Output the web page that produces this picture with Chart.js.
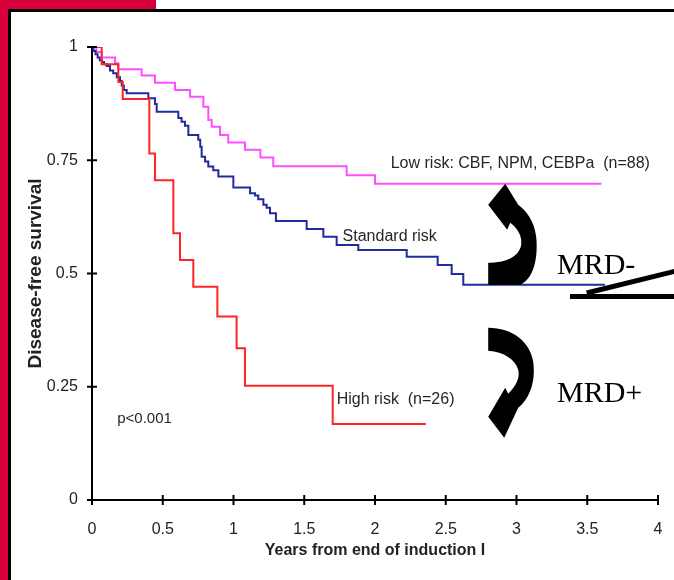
<!DOCTYPE html>
<html>
<head>
<meta charset="utf-8">
<script src="https://cdn.jsdelivr.net/npm/chart.js@4.4.1/dist/chart.umd.min.js"></script>
<style>
  html, body { margin: 0; padding: 0; background: #fff; }
  #wrap { position: relative; width: 674px; height: 580px; overflow: hidden; background: #fff; }
  .frame { position: absolute; }
  #redLeft { left: 0; top: 0; width: 8px; height: 580px; background: #d7003b; }
  #redTop { left: 0; top: 0; width: 156px; height: 9px; background: #d7003b; }
  #lineTop { left: 8px; top: 9px; right: 0; height: 3px; background: #000; }
  #lineLeft { left: 8px; top: 9px; width: 3px; bottom: 0; background: #000; }
  canvas { position: absolute; left: 0; top: 0; }
</style>
</head>
<body>
<div id="wrap">
  <div class="frame" id="redLeft"></div>
  <div class="frame" id="redTop"></div>
  <div class="frame" id="lineTop"></div>
  <div class="frame" id="lineLeft"></div>
  <canvas id="km" width="674" height="580"></canvas>
</div>
<script>
// ===== DATA =====
const xTitle = 'Years from end of induction I';
const yTitle = 'Disease-free survival';

// low risk (magenta)
const lowT = [0, 0.03, 0.07, 0.163, 0.186, 0.351, 0.445, 0.587, 0.693, 0.787, 0.822, 0.846, 0.905, 0.963, 1.081, 1.19, 1.281, 1.80, 2.0, 3.60];
const lowS = [1, 0.989, 0.977, 0.964, 0.951, 0.937, 0.921, 0.905, 0.890, 0.868, 0.839, 0.824, 0.806, 0.789, 0.773, 0.756, 0.737, 0.717, 0.698, 0.698];

// standard risk (blue)
const stdT = [0, 0.01, 0.025, 0.04, 0.055, 0.07, 0.085, 0.104, 0.127, 0.15, 0.175, 0.198, 0.21, 0.225, 0.245, 0.398, 0.445, 0.457, 0.61, 0.633, 0.657, 0.681, 0.751, 0.765, 0.775, 0.799, 0.822, 0.857, 0.893, 0.999, 1.117, 1.152, 1.175, 1.211, 1.234, 1.258, 1.30, 1.517, 1.635, 1.729, 1.882, 2.224, 2.443, 2.542, 2.624, 3.625];
const stdS = [1, 0.991, 0.984, 0.977, 0.971, 0.967, 0.962, 0.958, 0.948, 0.942, 0.933, 0.925, 0.915, 0.905, 0.898, 0.887, 0.874, 0.857, 0.843, 0.835, 0.826, 0.806, 0.795, 0.78, 0.758, 0.747, 0.736, 0.728, 0.714, 0.690, 0.677, 0.672, 0.664, 0.652, 0.645, 0.633, 0.616, 0.598, 0.581, 0.563, 0.552, 0.537, 0.519, 0.499, 0.475, 0.475];

// high risk (red)
const highT = [0, 0.068, 0.186, 0.217, 0.405, 0.445, 0.575, 0.622, 0.716, 0.886, 1.022, 1.081, 1.701, 2.36];
const highS = [1, 0.962, 0.923, 0.885, 0.765, 0.706, 0.589, 0.530, 0.471, 0.405, 0.335, 0.252, 0.168, 0.168];

const xTicks = [0, 0.5, 1, 1.5, 2, 2.5, 3, 3.5, 4];
const yTicks = [0, 0.25, 0.5, 0.75, 1];

const lowLabel = 'Low risk: CBF, NPM, CEBPa  (n=88)';
const stdLabel = 'Standard risk';
const highLabel = 'High risk  (n=26)';
const pLabel = 'p<0.001';
const mrdNeg = 'MRD-';
const mrdPos = 'MRD+';

// ===== HELPERS =====
const sans = "'Liberation Sans', Arial, sans-serif";
const serif = "'Liberation Serif', 'Times New Roman', serif";
const pts = (ts, ss) => ts.map((t, i) => ({ x: t, y: ss[i] }));

function arrowUp(ctx) {
  ctx.beginPath();
  ctx.moveTo(0, 0);
  ctx.lineTo(32, 0);
  ctx.bezierCurveTo(46, -6, 50, -28, 48, -48);
  ctx.bezierCurveTo(46, -64, 38, -74, 30, -80);
  ctx.lineTo(17, -101);
  ctx.lineTo(0, -80);
  ctx.lineTo(19, -55);
  ctx.lineTo(22, -62);
  ctx.bezierCurveTo(30, -56, 34, -48, 33, -40);
  ctx.bezierCurveTo(31, -28, 18, -22, 0, -22);
  ctx.closePath();
  ctx.fill();
}

function arrowDown(ctx) {
  ctx.beginPath();
  ctx.moveTo(0, 0);
  ctx.bezierCurveTo(24, 0, 42, 14, 45, 34);
  ctx.bezierCurveTo(48, 56, 40, 72, 30, 80);
  ctx.lineTo(16, 110);
  ctx.lineTo(0, 89);
  ctx.lineTo(17, 60);
  ctx.lineTo(20, 66);
  ctx.bezierCurveTo(28, 58, 32, 50, 30, 42);
  ctx.bezierCurveTo(27, 32, 16, 24, 0, 23);
  ctx.closePath();
  ctx.fill();
}

// ===== EXTRAS: tick crosses, labels, arrows =====
const extras = {
  id: 'extras',
  afterDraw(chart) {
    const { ctx, scales: { x, y } } = chart;
    const px = v => x.getPixelForValue(v), py = v => y.getPixelForValue(v);
    ctx.save();

    ctx.strokeStyle = '#000';
    ctx.lineWidth = 2;
    xTicks.forEach(v => {
      ctx.beginPath(); ctx.moveTo(px(v), py(0) - 5); ctx.lineTo(px(v), py(0) + 5); ctx.stroke();
    });
    yTicks.forEach(v => {
      ctx.beginPath(); ctx.moveTo(px(0) - 5, py(v)); ctx.lineTo(px(0) + 5, py(v)); ctx.stroke();
    });

    ctx.fillStyle = '#262626';
    ctx.textBaseline = 'alphabetic';
    ctx.font = '16px ' + sans;
    ctx.fillText(lowLabel, px(2.111), py(0.732));
    ctx.fillText(stdLabel, px(1.771), py(0.571));
    ctx.fillText(highLabel, px(1.729), py(0.213));
    ctx.font = '15px ' + sans;
    ctx.fillText(pLabel, px(0.178), py(0.171));

    ctx.fillStyle = '#000';
    ctx.font = '30px ' + serif;
    ctx.fillText(mrdNeg, px(3.286), py(0.499));
    ctx.fillText(mrdPos, px(3.286), py(0.216));

    ctx.save(); ctx.translate(px(2.80), py(0.475)); arrowUp(ctx); ctx.restore();
    ctx.save(); ctx.translate(px(2.80), py(0.380)); arrowDown(ctx); ctx.restore();

    ctx.lineWidth = 5;
    ctx.beginPath(); ctx.moveTo(px(3.378), py(0.449)); ctx.lineTo(px(4.2), py(0.449)); ctx.stroke();
    ctx.beginPath(); ctx.moveTo(px(3.496), py(0.457)); ctx.lineTo(px(4.2), py(0.511)); ctx.stroke();

    ctx.restore();
  }
};

// ===== CHART =====
new Chart(document.getElementById('km'), {
  type: 'line',
  data: {
    datasets: [
      { label: 'High risk', data: pts(highT, highS), borderColor: '#ff2424' },
      { label: 'Standard risk', data: pts(stdT, stdS), borderColor: '#1f2c9c' },
      { label: 'Low risk', data: pts(lowT, lowS), borderColor: '#ff4dff' }
    ].map(d => Object.assign(d, { borderWidth: 2, stepped: true, pointRadius: 0, fill: false }))
  },
  options: {
    responsive: false,
    animation: false,
    layout: { padding: { top: 47, right: 16, left: 0, bottom: 0 } },
    plugins: { legend: { display: false }, tooltip: { enabled: false } },
    scales: {
      x: {
        type: 'linear', min: 0, max: 4,
        afterFit: s => { s.height = 80; },
        grid: { display: false, drawTicks: true, tickLength: 12 },
        border: { display: true, color: '#000', width: 2 },
        ticks: { stepSize: 0.5, padding: 8, autoSkip: false, maxRotation: 0, color: '#222',
                 font: { family: sans, size: 16 }, callback: v => String(v) },
        title: { display: true, text: xTitle, color: '#222',
                 font: { family: sans, size: 16, weight: 'bold' }, padding: { top: 0, bottom: 20 } }
      },
      y: {
        type: 'linear', min: 0, max: 1,
        afterFit: s => { s.width = 92; },
        grid: { display: false, drawTicks: false },
        border: { display: true, color: '#000', width: 2 },
        ticks: { stepSize: 0.25, padding: 14, color: '#222',
                 font: { family: sans, size: 16 }, callback: v => String(v) },
        title: { display: true, text: yTitle, color: '#222',
                 font: { family: sans, size: 19, weight: 'bold' }, padding: { top: 24, bottom: 0 } }
      }
    }
  },
  plugins: [extras]
});
</script>
</body>
</html>
